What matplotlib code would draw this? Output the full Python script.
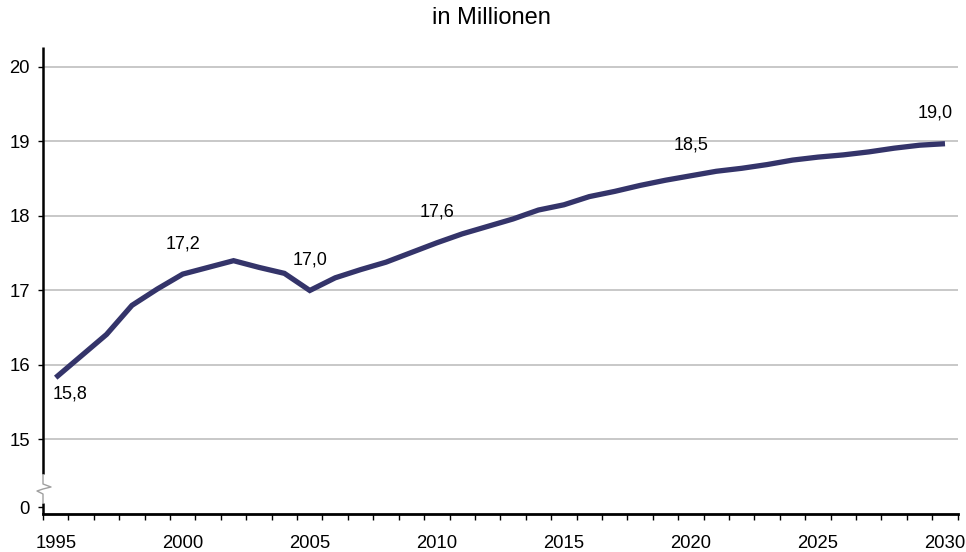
import numpy as np
from matplotlib import pyplot as plt
from matplotlib.ticker import FixedLocator

plt.rcParams['font.family'] = ['Liberation Sans', 'DejaVu Sans']

# data (millions)
years = list(range(1995, 2031))
values = [15.83, 16.12, 16.41, 16.80, 17.02, 17.22, 17.31, 17.40, 17.31, 17.23,
          17.00, 17.17, 17.28, 17.38, 17.51, 17.64, 17.76, 17.86, 17.96, 18.08,
          18.15, 18.26, 18.33, 18.41, 18.48, 18.54, 18.60, 18.64, 18.69, 18.75,
          18.79, 18.82, 18.86, 18.91, 18.95, 18.97]
label_years = [1995, 2000, 2005, 2010, 2020, 2030]
ytick_vals = [14.09, 15, 16, 17, 18, 19, 20]
ytick_labels = ['0', '15', '16', '17', '18', '19', '20']
xtick_years = list(range(1995, 2031, 5))

W, H = 966, 552
fig = plt.figure(figsize=(W / 100, H / 100), dpi=100)
ax = fig.add_axes([43 / W, 1 - 514 / H, (957.7 - 43) / W, (514 - 47) / H])

ax.set_xlim(1994.5, 2030.5)
ax.set_ylim(14.0, 20.268)

# gridlines only on the upper (real) part of the scale
for v in ytick_vals[1:]:
    ax.axhline(v, color='#c4c4c4', lw=1.3, zorder=1)

ax.plot(years, values, color='#34346a', lw=3.8, solid_capstyle='butt',
        solid_joinstyle='miter', zorder=3)

# data labels
for yr in label_years:
    v = values[years.index(yr)]
    txt = '{:.1f}'.format(v).replace('.', ',')
    if yr == 1995:
        off = (10, -11.5)
    elif yr == 2030:
        off = (-7, 22)
    else:
        off = (0, 22)
    ax.annotate(txt, (yr, v), xytext=off, textcoords='offset points',
                ha='center', va='center', fontsize=13, color='#000000')

# axes styling
for s in ['top', 'right', 'left']:
    ax.spines[s].set_visible(False)
ax.spines['bottom'].set_linewidth(2)
ax.spines['bottom'].set_zorder(4)

ax.set_yticks(ytick_vals)
ax.set_yticklabels(ytick_labels, fontsize=13.3)
ax.tick_params(axis='y', length=3.5, width=1, pad=6, direction='out')

ax.set_xticks(xtick_years)
ax.set_xticklabels([str(y) for y in xtick_years], fontsize=13.3)
ax.xaxis.set_minor_locator(FixedLocator(np.arange(1994.5, 2031, 1)))
ax.tick_params(axis='x', which='major', length=0, pad=15)
ax.tick_params(axis='x', which='minor', length=4, width=1, direction='out')

# left axis with break mark (drawn in pixel units relative to axes)
def px(x, y):
    return ((x - 43) / (957.7 - 43), (514 - y) / (514 - 47))

def seg(points, color, lw):
    xs, ys = zip(*[px(a, b) for a, b in points])
    ax.plot(xs, ys, color=color, lw=lw, transform=ax.transAxes, clip_on=False,
            zorder=5, solid_capstyle='butt')

seg([(43, 47), (43, 474)], 'black', 1.8)
seg([(43, 474), (43, 484), (51, 487), (43, 489), (37, 491), (43, 494), (43, 503)],
    '#a0a0a0', 1.0)
seg([(43, 503), (43, 514)], 'black', 1.8)

fig.text(491.7 / W, 1 - 18 / H, 'in Millionen', ha='center', va='center', fontsize=17)

fig.savefig('out.png', dpi=100)
